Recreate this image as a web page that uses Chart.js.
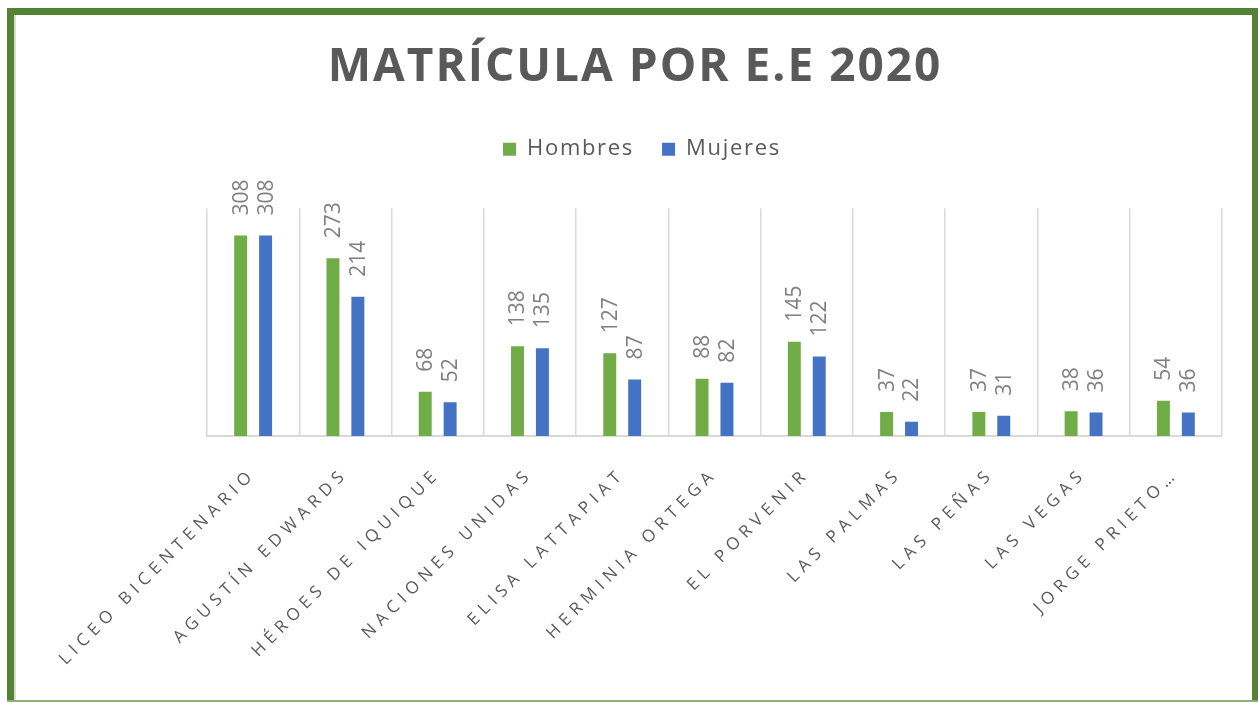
<!DOCTYPE html>
<html><head><meta charset="utf-8">
<script src="https://cdn.jsdelivr.net/npm/chart.js@4.4.1/dist/chart.umd.min.js"></script>
<style>html,body{margin:0;padding:0;background:#fff;overflow:hidden}canvas{display:block;background:#fff}</style>
</head><body>
<canvas id="c" width="1258" height="702"></canvas>
<script>
const categories = ['LICEO BICENTENARIO','AGUSTÍN EDWARDS','HÉROES DE IQUIQUE','NACIONES UNIDAS','ELISA LATTAPIAT','HERMINIA ORTEGA','EL PORVENIR','LAS PALMAS','LAS PEÑAS','LAS VEGAS','JORGE PRIETO…'];
const hombres = [308, 273, 68, 138, 127, 88, 145, 37, 37, 38, 54];
const mujeres = [308, 214, 52, 135, 87, 82, 122, 22, 31, 36, 36];
const seriesNames = ['Hombres', 'Mujeres'];
const chartTitle = 'MATRÍCULA POR E.E 2020';
const yMax = 350;

const GREEN = '#70AD47', BLUE = '#4472C4', TEXT = '#595959';

const spacingPlugin = {
  id: 'spacing',
  beforeLayout(chart) { chart.ctx.letterSpacing = '1.7px'; },
  beforeDraw(chart) { chart.ctx.letterSpacing = '2px'; },
  afterUpdate(chart) {
    const s = chart.scales.x;
    if (s && !s._lsWrapped) {
      const orig = s.drawLabels.bind(s);
      s.drawLabels = function(ca) {
        const ctx = this.ctx;
        const prev = ctx.letterSpacing;
        ctx.letterSpacing = '5.5px';
        orig(ca);
        ctx.letterSpacing = prev;
      };
      s._lsWrapped = true;
    }
  }
};

const framePlugin = {
  id: 'frame',
  beforeDraw(chart) {
    const ctx = chart.ctx;
    ctx.save();
    ctx.fillStyle = '#d9d9d9';
    ctx.fillRect(14, 15, 2, 685);
    ctx.fillStyle = '#548235';
    ctx.fillRect(7, 8, 7, 694);
    ctx.fillRect(7, 8, 1251, 7);
    ctx.fillRect(1252, 8, 6, 694);
    ctx.fillStyle = '#8fae72';
    ctx.fillRect(7, 700, 1251, 2);
    ctx.restore();
  }
};

const legendSpacer = {
  id: 'legendSpacer',
  afterInit(chart) {
    const lg = chart.legend;
    if (lg && !lg._wrapped) {
      const origFit = lg.fit.bind(lg);
      lg.fit = function() { origFit(); this.height += 42; };
      const origDraw = lg.draw.bind(lg);
      lg.draw = function() {
        const ctx = this.ctx;
        ctx.save();
        ctx.letterSpacing = '1.7px';
        ctx.translate(7, 4);
        origDraw();
        ctx.restore();
      };
      lg._wrapped = true;
    }
  }
};

const dataLabels = {
  id: 'dataLabels',
  afterDatasetsDraw(chart) {
    const ctx = chart.ctx;
    ctx.save();
    ctx.letterSpacing = '0px';
    ctx.fillStyle = '#7f7f7f';
    ctx.font = '21px "Open Sans"';
    ctx.textAlign = 'left';
    ctx.textBaseline = 'middle';
    chart.data.datasets.forEach((ds, di) => {
      const meta = chart.getDatasetMeta(di);
      meta.data.forEach((bar, i) => {
        ctx.save();
        ctx.translate(bar.x, bar.y - 20);
        ctx.rotate(-Math.PI / 2);
        ctx.fillText(String(ds.data[i]), 0, 1);
        ctx.restore();
      });
    });
    ctx.restore();
  }
};

new Chart(document.getElementById('c'), {
  type: 'bar',
  data: {
    labels: categories,
    datasets: [
      { label: seriesNames[0], data: hombres, backgroundColor: GREEN, categoryPercentage: 0.54, barPercentage: 0.52 },
      { label: seriesNames[1], data: mujeres, backgroundColor: BLUE, categoryPercentage: 0.54, barPercentage: 0.52 }
    ]
  },
  options: {
    responsive: false,
    animation: false,
    devicePixelRatio: 1,
    layout: { padding: { left: 12, right: 0, top: 0, bottom: 0 } },
    plugins: {
      title: {
        display: true, text: chartTitle, color: TEXT,
        font: { family: 'Open Sans', size: 46, weight: 'bold', lineHeight: 1.2 },
        padding: { top: 40, bottom: 11 }
      },
      legend: {
        display: true, position: 'top',
        labels: { boxWidth: 13, boxHeight: 13, color: TEXT, padding: 28,
          font: { family: 'Open Sans', size: 22 } }
      },
      tooltip: { enabled: false }
    },
    scales: {
      x: {
        grid: { color: '#d9d9d9', lineWidth: 1.5, drawTicks: false, offset: true },
        border: { display: true, color: '#d9d9d9', width: 2 },
        ticks: { autoSkip: false, maxRotation: 45, minRotation: 45, padding: 28, color: TEXT,
          font: { family: 'Open Sans', size: 17 } },
        afterFit(s) { s.paddingLeft = 207; s.paddingRight = 36; s.height = 266; }
      },
      y: { display: false, min: 0, max: yMax }
    }
  },
  plugins: [spacingPlugin, framePlugin, legendSpacer, dataLabels]
});
</script>
</body></html>
